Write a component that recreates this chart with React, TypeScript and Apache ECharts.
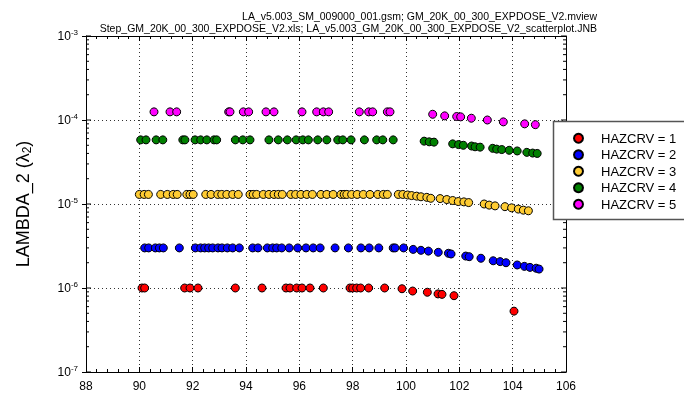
import React, { useEffect, useRef } from "react";
import * as echarts from "echarts";

const xTicks = [88, 90, 92, 94, 96, 98, 100, 102, 104, 106];
const yDecades = [-7, -6, -5, -4, -3];
const titleLine1 = "LA_v5.003_SM_009000_001.gsm; GM_20K_00_300_EXPDOSE_V2.mview";
const titleLine2 = "Step_GM_20K_00_300_EXPDOSE_V2.xls; LA_v5.003_GM_20K_00_300_EXPDOSE_V2_scatterplot.JNB";
const seriesNames = ["HAZCRV = 1", "HAZCRV = 2", "HAZCRV = 3", "HAZCRV = 4", "HAZCRV = 5"];
const seriesColors = ["#ff0000", "#0000ff", "#ffcc33", "#008000", "#ff00ff"];

const hazcrv1: [number, number][] = [
  [90.1, 1.0e-6], [90.2, 1.0e-6], [91.7, 1.0e-6], [91.9, 1.0e-6], [92.2, 1.0e-6], [93.6, 1.0e-6],
  [94.6, 1.0e-6], [95.5, 1.0e-6], [95.65, 1.0e-6], [95.9, 1.0e-6], [96.1, 1.0e-6], [96.4, 1.0e-6],
  [96.9, 1.0e-6], [97.9, 1.0e-6], [98.0, 1.0e-6], [98.15, 1.0e-6], [98.3, 1.0e-6], [98.6, 1.0e-6],
  [99.2, 1.0e-6], [99.85, 9.8e-7], [100.25, 9.2e-7], [100.8, 8.9e-7], [101.2, 8.5e-7], [101.35, 8.4e-7],
  [101.8, 8.1e-7], [104.05, 5.3e-7],
];

const hazcrv2: [number, number][] = [
  [90.2, 3.0e-6], [90.35, 3.0e-6], [90.6, 3.0e-6], [90.75, 3.0e-6], [90.9, 3.0e-6], [91.5, 3.0e-6],
  [92.1, 3.0e-6], [92.3, 3.0e-6], [92.45, 3.0e-6], [92.6, 3.0e-6], [92.75, 3.0e-6], [92.95, 3.0e-6],
  [93.1, 3.0e-6], [93.3, 3.0e-6], [93.5, 3.0e-6], [93.75, 3.0e-6], [94.25, 3.0e-6], [94.45, 3.0e-6],
  [94.8, 3.0e-6], [95.0, 3.0e-6], [95.15, 3.0e-6], [95.34, 3.0e-6], [95.62, 3.0e-6], [95.94, 3.0e-6],
  [96.25, 3.0e-6], [96.52, 3.0e-6], [96.78, 3.0e-6], [97.34, 3.0e-6], [97.84, 3.0e-6], [98.31, 3.0e-6],
  [98.62, 3.0e-6], [98.98, 3.0e-6], [99.52, 3.0e-6], [99.59, 3.0e-6], [99.91, 3.0e-6],
  [100.27, 2.88e-6], [100.56, 2.81e-6], [100.84, 2.75e-6], [101.21, 2.66e-6], [101.59, 2.59e-6],
  [101.69, 2.54e-6], [102.24, 2.4e-6], [102.37, 2.36e-6], [102.81, 2.26e-6], [103.27, 2.11e-6],
  [103.53, 2.06e-6], [103.75, 2.0e-6], [104.17, 1.88e-6], [104.44, 1.81e-6], [104.65, 1.76e-6],
  [104.88, 1.72e-6], [104.99, 1.68e-6],
];

const hazcrv3: [number, number][] = [
  [90.0, 1.3e-5], [90.18, 1.3e-5], [90.34, 1.3e-5], [90.8, 1.3e-5], [91.05, 1.3e-5], [91.27, 1.3e-5],
  [91.42, 1.3e-5], [91.78, 1.3e-5], [91.9, 1.3e-5], [92.02, 1.3e-5], [92.49, 1.3e-5], [92.69, 1.3e-5],
  [92.94, 1.3e-5], [93.09, 1.3e-5], [93.28, 1.3e-5], [93.5, 1.3e-5], [93.71, 1.3e-5], [94.15, 1.3e-5],
  [94.27, 1.3e-5], [94.4, 1.3e-5], [94.65, 1.3e-5], [94.86, 1.3e-5], [95.05, 1.3e-5], [95.21, 1.3e-5],
  [95.36, 1.3e-5], [95.68, 1.3e-5], [95.86, 1.3e-5], [96.06, 1.3e-5], [96.28, 1.3e-5], [96.49, 1.3e-5],
  [96.81, 1.3e-5], [97.03, 1.3e-5], [97.27, 1.3e-5], [97.56, 1.3e-5], [97.68, 1.3e-5], [97.78, 1.3e-5],
  [97.96, 1.3e-5], [98.17, 1.3e-5], [98.4, 1.3e-5], [98.65, 1.3e-5], [98.94, 1.3e-5], [99.15, 1.3e-5],
  [99.3, 1.3e-5], [99.71, 1.3e-5], [99.88, 1.3e-5],
  [100.06, 1.28e-5], [100.21, 1.26e-5], [100.4, 1.24e-5], [100.56, 1.22e-5], [100.78, 1.2e-5],
  [100.93, 1.17e-5], [101.28, 1.16e-5], [101.53, 1.13e-5], [101.75, 1.1e-5], [101.96, 1.07e-5],
  [102.17, 1.06e-5], [102.35, 1.04e-5], [102.93, 1.0e-5], [103.12, 9.7e-6], [103.34, 9.5e-6],
  [103.71, 9.3e-6], [103.96, 9.0e-6], [104.21, 8.7e-6], [104.4, 8.45e-6], [104.59, 8.3e-6],
];

const hazcrv4: [number, number][] = [
  [90.05, 5.8e-5], [90.25, 5.8e-5], [90.63, 5.8e-5], [90.88, 5.8e-5], [91.63, 5.8e-5], [91.71, 5.8e-5],
  [92.09, 5.8e-5], [92.3, 5.8e-5], [92.53, 5.8e-5], [92.8, 5.8e-5], [92.9, 5.8e-5], [93.6, 5.8e-5],
  [93.88, 5.8e-5], [94.15, 5.8e-5], [94.86, 5.8e-5], [95.21, 5.8e-5], [95.55, 5.8e-5], [95.88, 5.8e-5],
  [96.13, 5.8e-5], [96.34, 5.8e-5], [96.69, 5.8e-5], [97.03, 5.8e-5], [97.44, 5.8e-5], [97.63, 5.8e-5],
  [97.94, 5.8e-5], [98.44, 5.8e-5], [98.9, 5.8e-5], [99.13, 5.8e-5], [99.52, 5.8e-5],
  [100.68, 5.6e-5], [100.87, 5.5e-5], [101.05, 5.45e-5], [101.75, 5.2e-5], [101.97, 5.1e-5],
  [102.15, 5.0e-5], [102.46, 4.9e-5], [102.59, 4.8e-5], [102.78, 4.75e-5], [103.25, 4.6e-5],
  [103.4, 4.5e-5], [103.59, 4.45e-5], [103.87, 4.36e-5], [104.17, 4.28e-5], [104.53, 4.12e-5],
  [104.75, 4.04e-5], [104.92, 4.0e-5],
];

const hazcrv5: [number, number][] = [
  [90.55, 1.25e-4], [91.15, 1.25e-4], [91.4, 1.25e-4], [93.35, 1.25e-4], [93.4, 1.25e-4], [93.9, 1.25e-4],
  [94.1, 1.25e-4], [94.75, 1.25e-4], [95.05, 1.25e-4], [96.1, 1.25e-4], [96.65, 1.25e-4], [96.9, 1.25e-4],
  [97.1, 1.25e-4], [98.25, 1.25e-4], [98.6, 1.25e-4], [98.75, 1.25e-4], [99.3, 1.25e-4], [99.4, 1.25e-4],
  [101.0, 1.17e-4], [101.45, 1.12e-4], [101.9, 1.1e-4], [102.05, 1.09e-4], [102.45, 1.05e-4],
  [103.05, 1.0e-4], [103.65, 9.5e-5], [104.45, 9.0e-5], [104.85, 8.8e-5],
];

const allSeries = [hazcrv1, hazcrv2, hazcrv3, hazcrv4, hazcrv5];

const FONT = "'Liberation Sans', Arial, sans-serif";
const X_MIN = 88;
const X_MAX = 106;

export default function App() {
  const ref = useRef<HTMLDivElement>(null);

  useEffect(() => {
    if (!ref.current) return;
    const chart = echarts.init(ref.current, undefined, { renderer: "svg" });

    // y-axis tick positions (majors at decades, minors at 2..9 x decade)
    const yTickData: [number, number, number][] = [];
    yDecades.forEach((d, i) => {
      yTickData.push([X_MIN, Math.pow(10, d), 1]);
      if (i < yDecades.length - 1) {
        for (let k = 2; k <= 9; k++) yTickData.push([X_MIN, k * Math.pow(10, d), 0]);
      }
    });

    const scatterSeries = allSeries.map((data, i) => ({
      name: seriesNames[i],
      type: "scatter",
      data,
      symbol: "circle",
      symbolSize: 8,
      itemStyle: { color: seriesColors[i], borderColor: "#000", borderWidth: 1, opacity: 1 },
      z: 3,
    }));

    chart.setOption({
      animation: false,
      textStyle: { fontFamily: FONT },
      grid: { left: 86, top: 36, width: 480, height: 336 },
      xAxis: [
        {
          type: "value",
          min: X_MIN,
          max: X_MAX,
          interval: 2,
          position: "bottom",
          axisLine: { show: true, onZero: false, lineStyle: { color: "#000", width: 1 } },
          axisTick: { show: true, inside: true, length: 5, lineStyle: { color: "#000" } },
          minorTick: { show: true, splitNumber: 5, length: 3, lineStyle: { color: "#000" } },
          axisLabel: {
            color: "#000",
            fontSize: 12,
            fontFamily: FONT,
            margin: 8,
            formatter: (v: number) => (xTicks.includes(v) ? String(v) : ""),
          },
          splitLine: { show: true, lineStyle: { color: "#333", type: [1, 3], width: 1 } },
        },
        {
          type: "value",
          min: X_MIN,
          max: X_MAX,
          interval: 2,
          position: "top",
          axisLine: { show: true, onZero: false, lineStyle: { color: "#000", width: 1 } },
          axisTick: { show: true, inside: true, length: 5, lineStyle: { color: "#000" } },
          minorTick: { show: true, splitNumber: 5, length: 3, lineStyle: { color: "#000" } },
          axisLabel: { show: false },
          splitLine: { show: false },
        },
      ],
      yAxis: [
        {
          type: "log",
          logBase: 10,
          min: 1e-7,
          max: 1e-3,
          position: "left",
          axisLine: { show: true, onZero: false, lineStyle: { color: "#000", width: 1 } },
          axisTick: { show: true, inside: false, length: 4, lineStyle: { color: "#000" } },
          axisLabel: {
            color: "#000",
            margin: 8,
            formatter: (v: number) => `{b|10}{s|${Math.round(Math.log10(v))}}`,
            rich: {
              b: { fontSize: 12, fontFamily: FONT, color: "#000" },
              s: { fontSize: 8, fontFamily: FONT, color: "#000", padding: [0, 0, 7, 0] },
            },
          },
          splitLine: { show: true, lineStyle: { color: "#333", type: [1, 3], width: 1 } },
        },
        {
          type: "log",
          logBase: 10,
          min: 1e-7,
          max: 1e-3,
          position: "right",
          axisLine: { show: true, onZero: false, lineStyle: { color: "#000", width: 1 } },
          axisTick: { show: false },
          axisLabel: { show: false },
          splitLine: { show: false },
        },
      ],
      legend: {
        data: seriesNames,
        orient: "vertical",
        left: 573,
        top: 130.5,
        padding: 0,
        itemGap: 1,
        itemWidth: 9,
        itemHeight: 9,
        icon: "circle",
        z: 6,
        textStyle: { fontSize: 13, fontFamily: FONT, color: "#000", padding: [0, 0, 0, 13], lineHeight: 15.5 },
      },
      graphic: [
        {
          type: "rect",
          z: 5,
          shape: { x: 553.5, y: 121.5, width: 150, height: 98 },
          style: { fill: "#fff", stroke: "#555", lineWidth: 1.5 },
        },
        {
          type: "text",
          z: 5,
          x: 597,
          y: 16,
          style: { text: titleLine1, font: `10.5px ${FONT}`, fill: "#000", align: "right", verticalAlign: "middle" },
        },
        {
          type: "text",
          z: 5,
          x: 597,
          y: 28,
          style: { text: titleLine2, font: `10.5px ${FONT}`, fill: "#000", align: "right", verticalAlign: "middle" },
        },
        {
          type: "text",
          z: 5,
          x: 23,
          y: 204,
          rotation: Math.PI / 2,
          style: {
            text: "{a|LAMBDA_2 (λ}{b|2}{a|)}",
            align: "center",
            verticalAlign: "middle",
            fill: "#000",
            rich: {
              a: { fontSize: 18, fontFamily: FONT, fill: "#000", color: "#000" },
              b: { fontSize: 12, fontFamily: FONT, fill: "#000", color: "#000", padding: [8, 0, 0, 0] },
            },
          },
        },
      ],
      series: [
        ...scatterSeries,
        {
          type: "custom",
          name: "yticks",
          silent: true,
          clip: false,
          z: 4,
          xAxisIndex: 0,
          yAxisIndex: 0,
          encode: { x: 0, y: 1 },
          data: yTickData,
          renderItem: (params: any, api: any) => {
            const v = api.value(1);
            const major = api.value(2) === 1;
            const len = major ? 5 : 3;
            const l = api.coord([X_MIN, v]);
            const r = api.coord([X_MAX, v]);
            return {
              type: "group",
              children: [
                { type: "line", shape: { x1: l[0], y1: l[1], x2: l[0] + len, y2: l[1] }, style: { stroke: "#000", lineWidth: 1 } },
                { type: "line", shape: { x1: r[0], y1: r[1], x2: r[0] - len, y2: r[1] }, style: { stroke: "#000", lineWidth: 1 } },
              ],
            };
          },
        },
      ],
    });

    return () => chart.dispose();
  }, []);

  return <div ref={ref} style={{ position: "fixed", left: 0, top: 0, width: 684, height: 401 }} />;
}
